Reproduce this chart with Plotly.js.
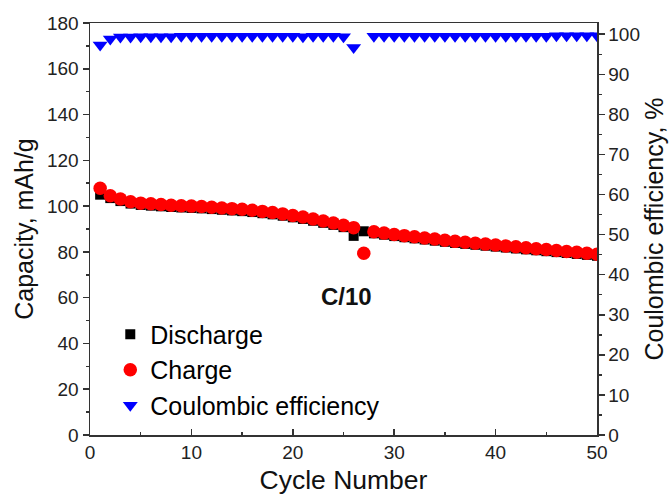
<!DOCTYPE html>
<html>
<head>
<meta charset="utf-8">
<script src="https://cdn.plot.ly/plotly-3.0.1.min.js"></script>
<style>html,body{margin:0;padding:0;background:#fff;}#chart{width:670px;height:499px;}</style>
</head>
<body>
<div id="chart"></div>
<script>
const cycles = [1,2,3,4,5,6,7,8,9,10,11,12,13,14,15,16,17,18,19,20,21,22,23,24,25,26,27,28,29,30,31,32,33,34,35,36,37,38,39,40,41,42,43,44,45,46,47,48,49,50];
const discharge = [105.0,103.5,102.2,101.1,100.5,100.2,99.9,99.6,99.4,99.2,99.0,98.7,98.4,98.1,97.8,97.4,96.9,96.4,95.8,95.1,94.4,93.6,92.7,91.8,90.8,87.0,89.0,88.1,87.5,86.9,86.4,85.9,85.4,84.9,84.4,83.9,83.5,83.1,82.7,82.3,81.9,81.5,81.1,80.7,80.3,79.9,79.5,79.1,78.7,78.3];
const charge = [107.8,104.5,103.1,101.9,101.3,101.0,100.7,100.4,100.2,100.0,99.8,99.5,99.2,98.9,98.6,98.2,97.7,97.2,96.6,95.9,95.2,94.4,93.5,92.6,91.6,90.6,79.4,88.8,88.2,87.6,87.1,86.6,86.1,85.6,85.1,84.6,84.2,83.8,83.4,83.0,82.6,82.2,81.8,81.4,81.0,80.6,80.2,79.8,79.4,79.0];
const efficiency = [97.3,98.8,99.3,99.3,99.4,99.4,99.4,99.4,99.5,99.5,99.5,99.5,99.5,99.5,99.5,99.5,99.5,99.5,99.5,99.5,99.4,99.5,99.5,99.5,99.4,96.7,null,99.5,99.5,99.5,99.5,99.5,99.5,99.5,99.5,99.5,99.5,99.5,99.5,99.5,99.5,99.5,99.5,99.5,99.5,99.6,99.6,99.6,99.6,99.6];
const seriesNames = ["Discharge","Charge","Coulombic efficiency"];
const xTitle = "Cycle Number";
const yTitle = "Capacity, mAh/g";
const y2Title = "Coulombic efficiency, %";
const rateLabel = "C/10";

const fontFam = "Liberation Sans, Arial, sans-serif";
const traces = [
  {x: cycles, y: discharge, name: seriesNames[0], type: "scatter", mode: "markers",
   marker: {symbol: "square", size: 10, color: "#000000"}},
  {x: cycles, y: charge, name: seriesNames[1], type: "scatter", mode: "markers",
   marker: {symbol: "circle", size: 13.5, color: "#ff0000"}},
  {x: cycles, y: efficiency, name: seriesNames[2], type: "scatter", mode: "markers", yaxis: "y2",
   marker: {symbol: "triangle-down", size: 13, color: "#0000ff"}}
];
const axisCommon = {
  showline: true, linecolor: "#333", linewidth: 1.5, showgrid: false, zeroline: false,
  ticklen: 6, tickwidth: 1.5, tickcolor: "#333",
  tickfont: {family: fontFam, size: 19, color: "#222"}
};
const layout = {
  width: 670, height: 499,
  margin: {l: 90, r: 73, t: 23, b: 64},
  paper_bgcolor: "#fff", plot_bgcolor: "#fff",
  showlegend: true,
  legend: {x: 0.04, y: 0.30, xanchor: "left", yanchor: "top", bgcolor: "rgba(0,0,0,0)",
           font: {family: fontFam, size: 25, color: "#000"}, traceorder: "normal",
           itemwidth: 30, tracegroupgap: 0},
  xaxis: Object.assign({}, axisCommon, {
    range: [0, 50], dtick: 10, ticks: "inside", mirror: true,
    minor: {dtick: 5, ticks: "inside", ticklen: 3, tickwidth: 1.5, tickcolor: "#333"},
    title: {text: xTitle, font: {family: fontFam, size: 26.5, color: "#111"}, standoff: 8}
  }),
  yaxis: Object.assign({}, axisCommon, {
    range: [0, 180], dtick: 20, ticks: "outside",
    minor: {dtick: 10, ticks: "outside", ticklen: 3, tickwidth: 1.5, tickcolor: "#333"},
    title: {text: yTitle, font: {family: fontFam, size: 25, color: "#111"}, standoff: 6}
  }),
  yaxis2: Object.assign({}, axisCommon, {
    range: [0, 102.8], dtick: 10, ticks: "outside", overlaying: "y", side: "right",
    minor: {dtick: 5, ticks: "outside", ticklen: 3, tickwidth: 1.5, tickcolor: "#333"},
    title: {text: y2Title, font: {family: fontFam, size: 25, color: "#111"}, standoff: 6}
  }),
  annotations: [{x: 25.3, y: 60.7, xref: "x", yref: "y", text: "<b>" + rateLabel + "</b>", showarrow: false,
                 font: {family: fontFam, size: 24, color: "#111"}}]
};
Plotly.newPlot("chart", traces, layout, {displayModeBar: false, staticPlot: true});
</script>
</body>
</html>
